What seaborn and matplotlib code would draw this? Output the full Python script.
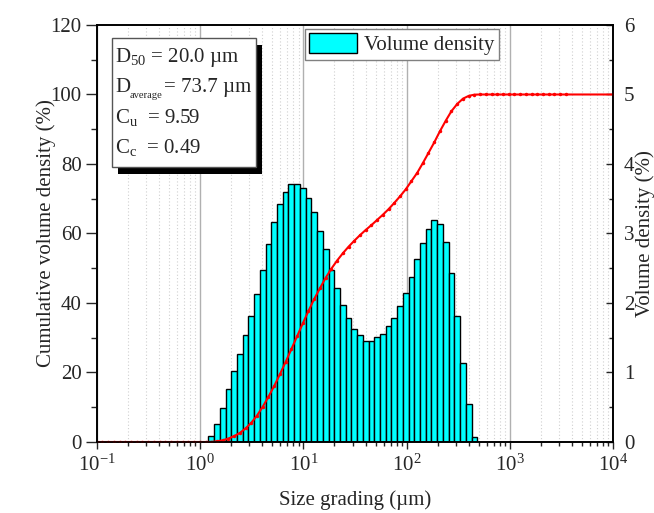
import numpy as np
import seaborn as sns
from matplotlib import pyplot as plt
from matplotlib.patches import Rectangle, Patch
from matplotlib.ticker import LogLocator, MultipleLocator, NullFormatter

# size classes (um) of the histogram bars
size_um = [1.28, 1.45, 1.65, 1.88, 2.13, 2.42, 2.75, 3.12, 3.55, 4.03,
           4.58, 5.21, 5.92, 6.72, 7.64, 8.68, 9.86, 11.2, 12.7, 14.5,
           16.4, 18.7, 21.2, 24.1, 27.4, 31.1, 35.3, 40.1, 45.6, 51.8,
           58.9, 66.9, 76.0, 86.4, 98.1, 111, 127, 144, 163, 186,
           211, 240, 272, 310, 352, 400, 454]
# volume density (%) per class
volume_density = [0.09, 0.26, 0.49, 0.76, 1.02, 1.27, 1.54, 1.82, 2.13, 2.48,
                  2.85, 3.16, 3.42, 3.60, 3.71, 3.71, 3.66, 3.51, 3.31, 3.04,
                  2.77, 2.48, 2.21, 1.97, 1.79, 1.63, 1.54, 1.46, 1.46, 1.51,
                  1.56, 1.67, 1.79, 1.95, 2.14, 2.37, 2.64, 2.87, 3.07, 3.19,
                  3.13, 2.88, 2.43, 1.81, 1.14, 0.55, 0.07]

# cumulative curve
low_size_um = [0.1, 0.113, 0.128, 0.146, 0.166, 0.188, 0.214, 0.243, 0.276, 0.314,
               0.357, 0.405, 0.460, 0.523, 0.594, 0.675, 0.767, 0.872, 0.991, 1.13]
high_size_um = [516, 586, 666, 756, 859, 976, 1110, 1260, 1430, 1630,
                1850, 2100, 2390, 2710, 3080, 3500, 10000]
cumulative_mid = [0.04, 0.19, 0.5, 1.0, 1.7, 2.6, 3.9, 5.5, 7.6, 10.1,
                  13.0, 16.1, 19.5, 23.0, 26.7, 30.4, 34.1, 37.7, 41.1, 44.3,
                  47.2, 49.9, 52.2, 54.3, 56.2, 57.9, 59.5, 61.0, 62.4, 63.9,
                  65.4, 67.0, 68.8, 70.7, 72.7, 75.0, 77.5, 80.3, 83.2, 86.3,
                  89.5, 92.5, 95.2, 97.3, 98.8, 99.6, 99.95]
curve_size_um = low_size_um + size_um + high_size_um
cumulative = [0.0] * len(low_size_um) + cumulative_mid + [100.0] * len(high_size_um)

d50_text = 'D$_{50}$ = 20.0 µm'
davg_text = ['D', 'average', '= 73.7 µm']
cu_text = 'C$_{\\mathregular{u}}$  = 9.59'
cc_text = 'C$_{\\mathregular{c}}$  = 0.49'

sns.set_style('ticks')
plt.rcParams['font.family'] = ['Liberation Serif', 'DejaVu Serif']
plt.rcParams['mathtext.fontset'] = 'custom'
plt.rcParams['mathtext.rm'] = 'Liberation Serif'
plt.rcParams['mathtext.it'] = 'Liberation Serif:italic'
plt.rcParams['axes.unicode_minus'] = False
plt.rcParams['font.size'] = 15

fig, ax = plt.subplots(figsize=(6.54, 5.13), dpi=100)
fig.subplots_adjust(left=0.1483, right=0.9373, bottom=0.1384, top=0.9513)
ax2 = ax.twinx()
ax.set_xscale('log')

# bars on ax (right scale), curve on ax2 (left scale)
half = 0.0277
sns.histplot(x=size_um, weights=volume_density, bins=len(size_um),
             binrange=(np.log10(size_um[0]) - half, np.log10(size_um[-1]) + half),
             log_scale=True, color='#00ffff', edgecolor='black', linewidth=1,
             alpha=1, ax=ax)
sns.lineplot(x=curve_size_um, y=cumulative, color='red', lw=1.5, marker='o',
             markersize=2.5, markeredgewidth=0, ax=ax2)

ax.yaxis.tick_right()
ax.yaxis.set_label_position('right')
ax2.yaxis.tick_left()
ax2.yaxis.set_label_position('left')

ax.set_xlim(0.1, 1e4)
ax.set_ylim(0, 6)
ax2.set_ylim(0, 120)
ax.xaxis.set_major_locator(LogLocator(base=10, numticks=10))
ax.xaxis.set_minor_locator(LogLocator(base=10, subs=np.arange(2, 10), numticks=100))
ax.xaxis.set_minor_formatter(NullFormatter())
ax.yaxis.set_major_locator(MultipleLocator(1))
ax.yaxis.set_minor_locator(MultipleLocator(0.5))
ax2.yaxis.set_major_locator(MultipleLocator(20))
ax2.yaxis.set_minor_locator(MultipleLocator(10))

ax.set_axisbelow(True)
ax.xaxis.grid(True, which='major', color='#b0b0b0', lw=1)
ax.xaxis.grid(True, which='minor', color='#d0d0d0', lw=0.8, ls=(0, (1, 2)))

ax.tick_params(axis='x', which='major', direction='out', length=5, width=1, pad=4, top=False)
ax.tick_params(axis='x', which='minor', direction='out', length=3, width=1, top=False)
ax.tick_params(axis='y', which='major', direction='in', length=5, width=1, pad=8)
ax.tick_params(axis='y', which='minor', direction='in', length=3, width=1)
ax2.tick_params(axis='y', which='major', direction='out', length=8, width=1, pad=3)
ax2.tick_params(axis='y', which='minor', direction='out', length=4.5, width=1)

for a in (ax, ax2):
    for s in a.spines.values():
        s.set_linewidth(1.2)
        s.set_color('black')

ax.set_xlabel('Size grading (µm)', va='top')
ax.xaxis.set_label_coords(0.5, -0.115)
ax.set_ylabel('Volume density (%)')
ax.yaxis.set_label_coords(1.043, 0.5)
ax2.set_ylabel('Cumulative volume density (%)')
ax2.yaxis.set_label_coords(-0.079, 0.5)

ax.legend(handles=[Patch(facecolor='#00ffff', edgecolor='black', lw=1)],
          labels=['Volume density'], loc='upper left', bbox_to_anchor=(0.403, 0.99),
          frameon=True, fancybox=False, edgecolor='#808080', framealpha=1,
          borderpad=0.2, handlelength=2.3, handleheight=1.1, handletextpad=0.35,
          borderaxespad=0, fontsize=15)

# statistics box with shadow
x0, y0, w, h = 0.0291, 0.659, 0.279, 0.3096
ax2.add_patch(Rectangle((x0 + 0.012, y0 - 0.016), w, h, transform=ax2.transAxes,
                        facecolor='black', edgecolor='none', zorder=5))
ax2.add_patch(Rectangle((x0, y0), w, h, transform=ax2.transAxes,
                        facecolor='white', edgecolor='#555555', lw=1, zorder=6))
tkw = dict(transform=ax2.transAxes, va='baseline', ha='left', zorder=7)
ax2.text(0.035, 0.912, d50_text, fontsize=15, **tkw)
ax2.text(0.035, 0.840, davg_text[0], fontsize=15, **tkw)
ax2.text(0.064, 0.825, davg_text[1], fontsize=7.6, **tkw)
ax2.text(0.130, 0.840, davg_text[2], fontsize=15, **tkw)
ax2.text(0.035, 0.7655, cu_text, fontsize=15, **tkw)
ax2.text(0.035, 0.692, cc_text, fontsize=15, **tkw)

fig.savefig('out.png', dpi=100)
